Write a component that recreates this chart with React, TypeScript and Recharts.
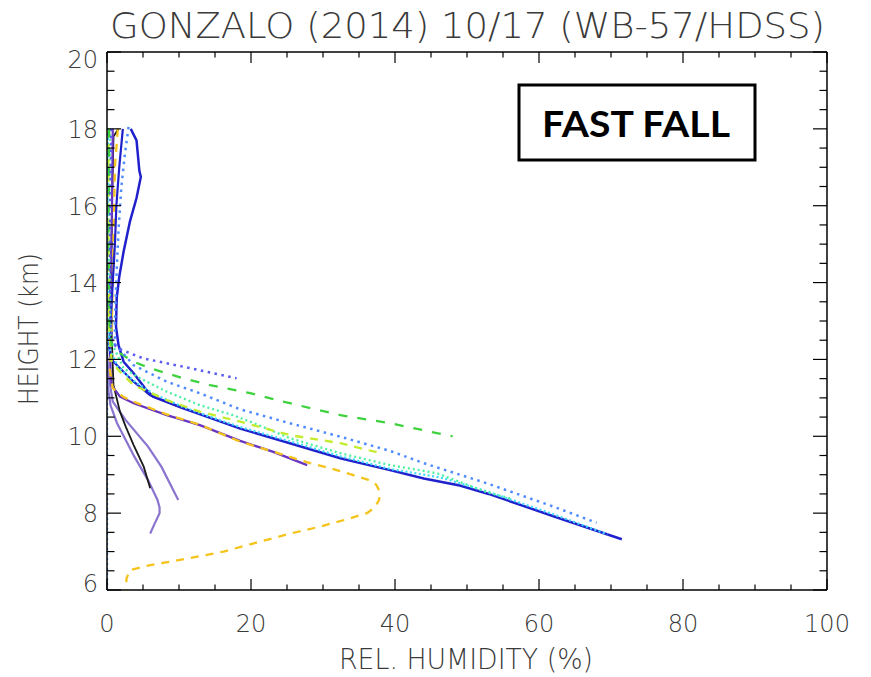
import React from 'react';
import { LineChart, Line, XAxis, YAxis } from 'recharts';

// profiles: [rel. humidity %, height km], top to bottom
const darkBlue = [
  [3.3, 18.0], [4.1, 17.7], [4.5, 16.9], [4.7, 16.75], [4.1, 16.2], [3.2, 15.6], [2.3, 14.8],
  [1.7, 14.15], [1.35, 13.6], [1.25, 12.85], [1.6, 12.37], [2.3, 11.94], [3.7, 11.64], [5.5, 11.2],
  [6.4, 11.03], [10.6, 10.73], [15.2, 10.42], [18.5, 10.2], [25.4, 9.82], [32.4, 9.43], [39.3, 9.12],
  [44, 8.9], [49, 8.72], [53, 8.5], [62, 7.92], [71.5, 7.32],
];
const darkBlue2 = [
  [2.2, 18], [1.7, 17], [1.3, 16], [1.1, 15], [0.8, 14], [0.5, 13], [0.3, 12.3], [0.6, 12.0],
  [1.8, 11.77], [3.7, 11.42], [6, 11.07], [10.6, 10.73],
];
const lightBlueDots = [
  [3.0, 18.05], [2.5, 17.37], [2.0, 16.5], [1.6, 15.37], [1.35, 14.33], [1.1, 13.0], [1.1, 12.4],
  [3.7, 11.85], [8.3, 11.42], [12.9, 11.12], [18.5, 10.7], [25.4, 10.34], [32.4, 9.99], [39.3, 9.62],
  [44, 9.3], [52.7, 8.78], [62, 8.17], [68, 7.75],
];
const shortDots = [
  [0.6, 18], [0.4, 15], [0.5, 13], [0.8, 12.4], [2.0, 12.25], [5, 12.03], [10.6, 11.81], [18, 11.51],
];
const greenDash = [
  [0.3, 18], [0.2, 15], [0.3, 13], [0.65, 12.37], [1.8, 12.16], [3.7, 11.94], [6, 11.77], [10.6, 11.51],
  [14.3, 11.33], [19.9, 11.12], [25.4, 10.86], [32.4, 10.55], [39.3, 10.34], [44.9, 10.12], [48, 10.0],
];
const limeDash = [
  [0.2, 18], [0.2, 15], [0.3, 12.8], [0.65, 11.94], [1.8, 11.68], [3.7, 11.33], [8.3, 10.94],
  [12.9, 10.64], [18.5, 10.38], [25.4, 10.03], [32.4, 9.82], [37.8, 9.57],
];
const mintDots = [
  [0.4, 18], [0.3, 15], [0.5, 12.5], [2.3, 11.77], [4.6, 11.51], [8.3, 11.16], [12.9, 10.81],
  [17.5, 10.55], [19.9, 10.38], [25.4, 9.95], [32.4, 9.56], [39.3, 9.25], [45.8, 9.04], [52.7, 8.55], [56, 8.38],
];
const cyanDots = [
  [0.1, 18], [0.1, 14], [0.3, 12.3], [1.5, 11.8], [4, 11.4], [6.5, 11.1], [10.6, 10.76], [15.2, 10.45],
  [18.5, 10.24], [25.4, 9.87], [32.4, 9.48], [39.3, 9.15], [46.3, 8.93], [53, 8.55], [62, 7.97], [69.5, 7.45],
];
const yellowDash = [
  [1.5, 18], [1.1, 17], [1.0, 16], [0.8, 14], [0.6, 12.5], [0.4, 11.72], [0.8, 11.25], [2.3, 11.02],
  [3.7, 10.9], [8.3, 10.57], [12.9, 10.3], [18.5, 9.86], [23.1, 9.6], [28.2, 9.3], [31, 9.17], [34, 9.0],
  [36.1, 8.88], [37.4, 8.74], [37.9, 8.55], [37.8, 8.35], [37.2, 8.15], [36.1, 8.0], [33.5, 7.85],
  [29.6, 7.65], [25.5, 7.47], [20.5, 7.22], [16.2, 7.0], [11.5, 6.83], [8.8, 6.74], [5.5, 6.63],
  [3.2, 6.52], [2.7, 6.3], [2.7, 6.0],
];
const purple = [
  [0.8, 18], [0.7, 16], [0.5, 14], [0.4, 12.5], [0.5, 11.6], [0.65, 11.33], [1.8, 11.03], [3.7, 10.86],
  [8.3, 10.55], [12.9, 10.29], [18.5, 9.88], [23, 9.6], [27.8, 9.25],
];
const black = [
  [1.6, 18], [0.9, 17.8], [0.7, 16], [0.6, 14], [0.65, 12.6], [0.9, 11.33], [1.8, 10.64], [2.6, 10.25],
  [3.7, 9.77], [5.1, 9.21], [6.0, 8.65],
];
const lightPurpleA = [
  [0, 12], [0.1, 11.3], [0.5, 10.8], [1.4, 10.34], [3.8, 9.47], [5.7, 8.86], [7.0, 8.35], [7.3, 8.15],
  [7.3, 8.0], [6.6, 7.72], [6.0, 7.47],
];
const lightPurpleB = [
  [0, 12.2], [0.2, 11.6], [0.8, 10.9], [2.6, 10.42], [5.7, 9.73], [7.55, 9.21], [9.9, 8.34],
];
const axisDots = [[0, 6], [0, 18]];

const xTicks = [0, 5, 10, 15, 20, 25, 30, 35, 40, 45, 50, 55, 60, 65, 70, 75, 80, 85, 90, 95, 100];
const yTicks = [6, 6.5, 7, 7.5, 8, 8.5, 9, 9.5, 10, 10.5, 11, 11.5, 12, 12.5, 13, 13.5, 14, 14.5, 15, 15.5, 16, 16.5, 17, 17.5, 18, 18.5, 19, 19.5, 20];

const toPts = (arr: number[][]) => arr.map(([rh, h]) => ({ rh, h }));

const series = [
  { name: 'lpA', data: lightPurpleA, color: '#8a74cf', dash: undefined, w: 2.2 },
  { name: 'lpB', data: lightPurpleB, color: '#8a74cf', dash: undefined, w: 2.2 },
  { name: 'black', data: black, color: '#1a1a1a', dash: undefined, w: 1.8 },
  { name: 'purple', data: purple, color: '#6a35bf', dash: undefined, w: 2.2 },
  { name: 'yellow', data: yellowDash, color: '#f5c41c', dash: '8 7', w: 2.3 },
  { name: 'blue2', data: darkBlue2, color: '#2020cc', dash: undefined, w: 2.2 },
  { name: 'blue', data: darkBlue, color: '#2020cc', dash: undefined, w: 2.5 },
  { name: 'cyan', data: cyanDots, color: '#3fd8ff', dash: '2 2.5', w: 2.3 },
  { name: 'mint', data: mintDots, color: '#4cf0a0', dash: '2 3', w: 2.3 },
  { name: 'lime', data: limeDash, color: '#c3ec2e', dash: '8 7', w: 2.3 },
  { name: 'green', data: greenDash, color: '#3fd23f', dash: '9 10', w: 2.3 },
  { name: 'lbdots', data: lightBlueDots, color: '#4f8bff', dash: '2.5 4.5', w: 2.5 },
  { name: 'sdots', data: shortDots, color: '#5a5cf0', dash: '2.5 4.5', w: 2.5 },
  { name: 'axis', data: axisDots, color: '#3399ff', dash: '2 3', w: 2.3 },
];

const labelStyle = {
  fontFamily: '"DejaVu Sans", sans-serif',
  fontWeight: 200,
  fontSize: 24,
  fill: '#3a3a3a',
};

const BottomTick = (p: any) => {
  const { x, y, payload } = p;
  const v = payload.value;
  const major = v % 20 === 0;
  return (
    <g>
      <line x1={x} x2={x} y1={y} y2={y - (major ? 11 : 5.5)} stroke="#000" strokeWidth={1.2} />
      {major && <text x={x} y={y + 42} textAnchor="middle" style={labelStyle}>{v}</text>}
    </g>
  );
};

const TopTick = (p: any) => {
  const { x, y, payload } = p;
  const major = payload.value % 20 === 0;
  return <line x1={x} x2={x} y1={y} y2={y + (major ? 11 : 5.5)} stroke="#000" strokeWidth={1.2} />;
};

const LeftTick = (p: any) => {
  const { x, y, payload } = p;
  const v = payload.value;
  const major = v % 2 === 0;
  const dy = v === 20 ? 16 : v === 6 ? 2 : 9;
  return (
    <g>
      <line x1={x} x2={x + (major ? 14 : 7.5)} y1={y} y2={y} stroke="#000" strokeWidth={1.2} />
      {major && <text x={x - 9} y={y + dy} textAnchor="end" style={labelStyle}>{v}</text>}
    </g>
  );
};

const RightTick = (p: any) => {
  const { x, y, payload } = p;
  const major = payload.value % 2 === 0;
  return <line x1={x} x2={x - (major ? 14 : 7.5)} y1={y} y2={y} stroke="#000" strokeWidth={1.2} />;
};

const axisLine = { stroke: '#000', strokeWidth: 1.5 };

export default function App() {
  return (
    <div style={{ position: 'absolute', left: 0, top: 0, width: 871, height: 677, background: '#fff' }}>
      <LineChart width={871} height={677} margin={{ top: 42, right: 34, bottom: 57, left: 67 }}>
        <XAxis xAxisId={0} dataKey="rh" type="number" domain={[0, 100]} ticks={xTicks} interval={0}
          allowDataOverflow height={30} tickSize={0} tickMargin={0} tickLine={false} axisLine={axisLine} tick={<BottomTick />} />
        <XAxis xAxisId="top" orientation="top" dataKey="rh" type="number" domain={[0, 100]} ticks={xTicks} interval={0}
          allowDataOverflow height={10} tickSize={0} tickMargin={0} tickLine={false} axisLine={axisLine} tick={<TopTick />} />
        <YAxis yAxisId={0} type="number" domain={[6, 20]} ticks={yTicks} interval={0}
          allowDataOverflow width={40} tickSize={0} tickMargin={0} tickLine={false} axisLine={axisLine} tick={<LeftTick />} />
        <YAxis yAxisId="right" orientation="right" type="number" domain={[6, 20]} ticks={yTicks} interval={0}
          allowDataOverflow width={10} tickSize={0} tickMargin={0} tickLine={false} axisLine={axisLine} tick={<RightTick />} />
        {series.map(s => (
          <Line key={s.name} data={toPts(s.data)} dataKey="h" type="linear" stroke={s.color}
            strokeWidth={s.w} strokeDasharray={s.dash} dot={false} activeDot={false}
            isAnimationActive={false} />
        ))}
      </LineChart>
      <svg width={871} height={677} style={{ position: 'absolute', left: 0, top: 0, pointerEvents: 'none' }}>
        <text x={467.5} y={38} textAnchor="middle" textLength={715} lengthAdjust="spacingAndGlyphs"
          style={{ ...labelStyle, fontSize: 36 }}>GONZALO (2014) 10/17 (WB-57/HDSS)</text>
        <text x={466} y={669} textAnchor="middle" textLength={254} lengthAdjust="spacingAndGlyphs"
          style={{ ...labelStyle, fontSize: 28 }}>REL. HUMIDITY (%)</text>
        <text x={0} y={0} transform="translate(38 329) rotate(-90)" textAnchor="middle" textLength={152}
          lengthAdjust="spacingAndGlyphs" style={{ ...labelStyle, fontSize: 27 }}>HEIGHT (km)</text>
        <rect x={519} y={85} width={236} height={75} fill="#fff" stroke="#000" strokeWidth={3} />
        <text x={636} y={137} textAnchor="middle" textLength={188} lengthAdjust="spacingAndGlyphs"
          style={{ fontFamily: 'Lato, "Open Sans", sans-serif', fontWeight: 700, fontSize: 37, fill: '#000' }}>FAST FALL</text>
      </svg>
    </div>
  );
}
